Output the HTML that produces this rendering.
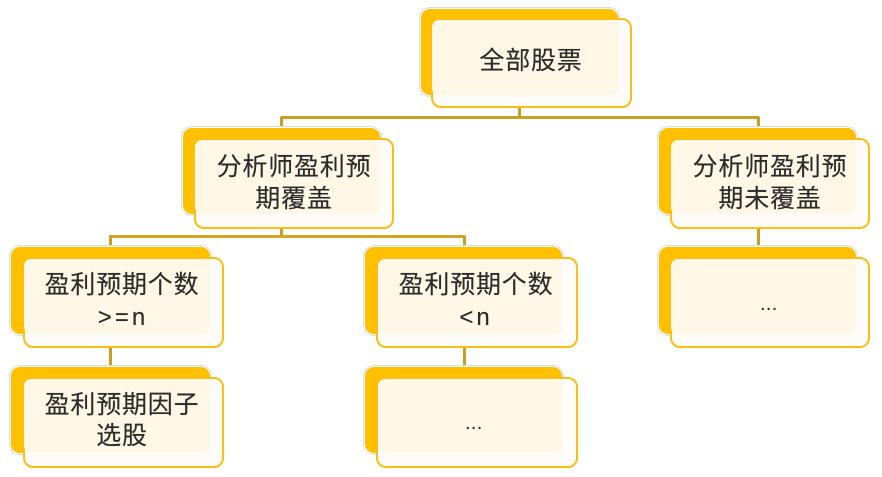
<!DOCTYPE html>
<html><head><meta charset="utf-8"><style>
html,body{margin:0;padding:0;background:#fff;width:882px;height:477px;overflow:hidden}
body{position:relative;font-family:"Liberation Sans","Noto Sans CJK SC",sans-serif}
.b,.l,.c,.f,.t{position:absolute;box-sizing:border-box}
.l{background:#c9a022}
.b{background:#ffc000;border-radius:9px;box-shadow:0 0 0 1px #fff,0 0 0 2px #ddd}
.f{background:#fdfcf8;border:2.5px solid #fdbd14;border-radius:10px}
.c{background:#fff8e6;border-radius:7px}
.t{font-size:25px;line-height:32px;height:32px;letter-spacing:.8px;color:#2b2b2b;white-space:nowrap;text-align:center;width:240px;text-shadow:0 0 .6px rgba(0,0,0,.55)}
.a{font-size:24px;letter-spacing:3px}
.d{font-size:19px;letter-spacing:.6px}
</style></head><body>
<div class="l" style="left:281px;top:115.5px;width:478px;height:3.5px"></div>
<div class="l" style="left:517.5px;top:106px;width:3px;height:11px"></div>
<div class="l" style="left:279.5px;top:117px;width:3px;height:11px"></div>
<div class="l" style="left:756.5px;top:117px;width:3px;height:11px"></div>
<div class="l" style="left:109px;top:234.5px;width:356px;height:3.5px;background:#d4a520"></div>
<div class="l" style="left:279.5px;top:227px;width:3px;height:9px"></div>
<div class="l" style="left:108.5px;top:236px;width:3px;height:11px"></div>
<div class="l" style="left:462.5px;top:236px;width:3px;height:11px"></div>
<div class="l" style="left:108.5px;top:346px;width:3px;height:21px"></div>
<div class="l" style="left:462.5px;top:346px;width:3px;height:21px"></div>
<div class="l" style="left:756.5px;top:227px;width:3px;height:20px"></div>

<div class="b" style="left:421px;top:9px;width:197px;height:86px"></div>
<div class="f" style="left:431px;top:18px;width:201px;height:90px"></div>
<div class="c" style="left:432px;top:20px;width:186px;height:75px"></div>
<div class="t" style="left:411px;top:45px">全部股票</div>

<div class="b" style="left:183px;top:128px;width:197px;height:86px"></div>
<div class="f" style="left:194px;top:138px;width:200px;height:91px"></div>
<div class="c" style="left:195px;top:140px;width:185px;height:74px"></div>
<div class="t" style="left:174px;top:151px">分析师盈利预</div>
<div class="t" style="left:174px;top:183px">期覆盖</div>

<div class="b" style="left:659px;top:128px;width:197px;height:86px"></div>
<div class="f" style="left:670px;top:138px;width:200px;height:91px"></div>
<div class="c" style="left:671px;top:140px;width:185px;height:74px"></div>
<div class="t" style="left:650px;top:151px">分析师盈利预</div>
<div class="t" style="left:650px;top:183px">期未覆盖</div>

<div class="b" style="left:11px;top:247px;width:199px;height:87px"></div>
<div class="f" style="left:23px;top:257px;width:201px;height:91px"></div>
<div class="c" style="left:24px;top:259px;width:186px;height:75px"></div>
<div class="t" style="left:2px;top:269px">盈利预期个数</div>
<div class="t a" style="left:3px;top:302px">&gt;=n</div>

<div class="b" style="left:365px;top:247px;width:197px;height:87px"></div>
<div class="f" style="left:376px;top:257px;width:202px;height:91px"></div>
<div class="c" style="left:378px;top:259px;width:184px;height:75px"></div>
<div class="t" style="left:356px;top:269px">盈利预期个数</div>
<div class="t a" style="left:356px;top:302px">&lt;n</div>

<div class="b" style="left:659px;top:247px;width:197px;height:87px"></div>
<div class="f" style="left:670px;top:257px;width:200px;height:91px"></div>
<div class="c" style="left:671px;top:259px;width:185px;height:75px"></div>
<div class="t d" style="left:649px;top:289px">...</div>

<div class="b" style="left:11px;top:367px;width:199px;height:86px"></div>
<div class="f" style="left:23px;top:377px;width:201px;height:91px"></div>
<div class="c" style="left:24px;top:379px;width:186px;height:74px"></div>
<div class="t" style="left:2px;top:389px">盈利预期因子</div>
<div class="t" style="left:2px;top:420px">选股</div>

<div class="b" style="left:365px;top:367px;width:197px;height:86px"></div>
<div class="f" style="left:376px;top:377px;width:202px;height:91px"></div>
<div class="c" style="left:378px;top:379px;width:184px;height:74px"></div>
<div class="t d" style="left:354px;top:408px">...</div>
</body></html>
